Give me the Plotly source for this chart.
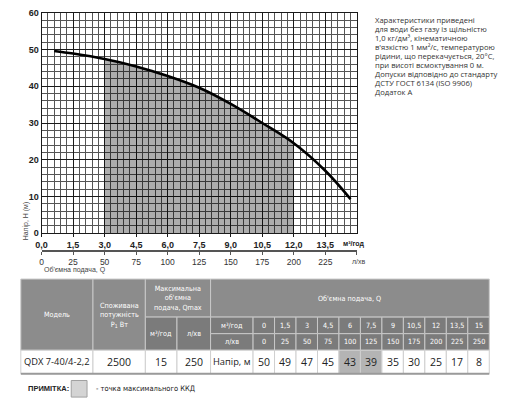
import plotly.graph_objects as go

W, H = 512, 405

# --- chart data ---
curve_q = [0.6, 1.5, 3.0, 4.5, 6.0, 7.5, 9.0, 10.5, 12.0, 13.5, 14.7]
curve_h = [49.6, 48.9, 47.4, 45.4, 42.8, 39.6, 35.2, 30.0, 24.5, 17.0, 9.3]
work_from, work_to = 3.0, 12.0

q_ticks = [0.0, 1.5, 3.0, 4.5, 6.0, 7.5, 9.0, 10.5, 12.0, 13.5]
lmin_ticks = [0, 25, 50, 75, 100, 125, 150, 175, 200, 225]
h_ticks = [0, 10, 20, 30, 40, 50, 60]

# --- table data ---
model_name = "QDX 7-40/4-2,2"
power_w = 2500
qmax_m3 = 15
qmax_lmin = 250
tbl_q_m3 = ["0", "1,5", "3", "4,5", "6", "7,5", "9", "10,5", "12", "13,5", "15"]
tbl_q_lmin = ["0", "25", "50", "75", "100", "125", "150", "175", "200", "225", "250"]
tbl_head = [50, 49, 47, 45, 43, 39, 35, 30, 25, 17, 8]
tbl_bep = [False, False, False, False, True, True, False, False, False, False, False]

notes = [
    "Характеристики приведені",
    "для води без газу із щільністю",
    "1,0 кг/дм³, кінематичною",
    "в'язкістю 1 мм²/с, температурою",
    "рідини, що перекачується, 20°С,",
    "при висоті всмоктування 0 м.",
    "Допуски відповідно до стандарту",
    "ДСТУ ГОСТ 6134 (ISO 9906)",
    "Додаток А",
]


def px(x):
    return x / W


def py(y):
    return 1 - y / H


fill_q = [q for q in curve_q if work_from <= q <= work_to]
fill_h = [h for q, h in zip(curve_q, curve_h) if work_from <= q <= work_to]

fig = go.Figure()
fig.add_trace(go.Scatter(x=fill_q, y=fill_h, mode="lines", fill="tozeroy",
                         line=dict(width=0, shape="spline"),
                         fillcolor="rgba(0,0,0,0.32)", hoverinfo="skip"))
fig.add_trace(go.Scatter(x=curve_q, y=curve_h, mode="lines",
                         line=dict(color="black", width=2.6, shape="spline")))
# invisible trace so the l/min axis is drawn
fig.add_trace(go.Scatter(x=[0, 250], y=[0, 0], xaxis="x2", mode="lines",
                         line=dict(width=0), hoverinfo="skip"))

fig.update_layout(
    width=W, height=H,
    margin=dict(l=0, r=0, t=0, b=0),
    paper_bgcolor="white", plot_bgcolor="white",
    showlegend=False,
    separators=", ",
    xaxis=dict(
        domain=[px(36), px(355)], range=[0, 15],
        tickvals=q_ticks, ticktext=[f"{v:.1f}".replace(".", ",") for v in q_ticks],
        tickfont=dict(family="Liberation Sans", size=9, color="#222", weight="bold"),
        showgrid=True, gridcolor="#1a1a1a", gridwidth=1.3,
        minor=dict(tick0=0, dtick=0.3, showgrid=True, gridcolor="#555", gridwidth=0.6),
        ticks="outside", ticklen=3, tickcolor="#1a1a1a",
        showline=True, mirror=True, linecolor="#1a1a1a", linewidth=1,
        zeroline=False, fixedrange=True,
    ),
    xaxis2=dict(
        domain=[px(36), px(355)], range=[0, 250], overlaying="x",
        anchor="free", position=py(252), side="bottom",
        tickvals=lmin_ticks,
        tickfont=dict(family="Liberation Sans", size=8.5, color="#333"),
        ticks="outside", ticklen=3, tickcolor="#555",
        minor=dict(tick0=0, dtick=25, ticks="outside", ticklen=3, tickcolor="#555"),
        showline=True, linecolor="#555", linewidth=1.6,
        showgrid=False, zeroline=False,
    ),
    yaxis=dict(
        domain=[py(234), py(8)], range=[0, 60],
        tickvals=h_ticks,
        tickfont=dict(family="Liberation Sans", size=9, color="#222", weight="bold"),
        showgrid=True, gridcolor="#1a1a1a", gridwidth=1.3,
        minor=dict(tick0=0, dtick=2, showgrid=True, gridcolor="#555", gridwidth=0.6),
        ticks="", showline=True, mirror=True, linecolor="#1a1a1a", linewidth=1,
        zeroline=False,
    ),
)

ann = []
shapes = []


def text(x, y, s, size=8, color="#222", family="Open Sans", xanchor="center", **kw):
    ann.append(dict(x=px(x), y=py(y), xref="paper", yref="paper", text=s,
                    showarrow=False, xanchor=xanchor, yanchor="middle",
                    font=dict(family=family, size=size, color=color), **kw))


def cell(x0, y0, x1, y1, fill, line="#c8c8c8", width=1):
    shapes.append(dict(type="rect", xref="paper", yref="paper",
                       x0=px(x0), x1=px(x1), y0=py(y1), y1=py(y0),
                       fillcolor=fill, line=dict(color=line, width=width), layer="above"))


# axis captions
text(352, 245, "<b>м³/год</b>", size=7, family="Liberation Sans")
text(357, 263, "л/хв", size=7, color="#444", family="Liberation Sans")
text(36, 272, "Об'ємна подача, Q", size=7, color="#444", xanchor="left", family="Liberation Sans")
text(20, 221, "Напір, H (м)", size=7, color="#444", family="Liberation Sans", textangle=-90)

for i, line in enumerate(notes):
    text(371, 15 + i * 9.3, line, size=7.6, color="#333", xanchor="left")

# --- table ---
hdr = "#8c8c8c"
sub = "#7b7b7b"
cond = "Liberation Sans Narrow, DejaVu Sans Condensed, sans-serif"
top, mid, r1, r2, bot = 281, 320, 337, 354, 378
c_model, c_pow, c_qm, c_ql, c_lab, c_q0, c_end = 15, 88, 141, 173, 207, 250, 489
cw = (c_end - c_q0) / len(tbl_head)

cell(c_model, top, c_pow, r2, hdr)
cell(c_pow, top, c_qm, r2, hdr)
cell(c_qm, top, c_lab, mid, hdr)
cell(c_qm, mid, c_ql, r2, sub)
cell(c_ql, mid, c_lab, r2, sub)
cell(c_lab, top, c_end, mid, hdr)
cell(c_lab, mid, c_q0, r1, sub)
cell(c_lab, r1, c_q0, r2, sub)

hw = "white"
text((c_model + c_pow) / 2, (top + r2) / 2, "Модель", 7.2, hw, cond)
text((c_pow + c_qm) / 2, (top + r2) / 2, "Споживана<br>потужність<br>P<sub>1</sub> Вт", 7.2, hw, cond)
text((c_qm + c_lab) / 2, (top + mid) / 2, "Максимальна<br>об'ємна<br>подача, Qmax", 7.2, hw, cond)
text((c_qm + c_ql) / 2, (mid + r2) / 2, "м³/год", 7.2, hw, cond)
text((c_ql + c_lab) / 2, (mid + r2) / 2, "л/хв", 7.2, hw, cond)
text((c_lab + c_end) / 2, (top + mid) / 2, "Об'ємна подача, Q", 7.2, hw, cond)
text((c_lab + c_q0) / 2, (mid + r1) / 2, "м³/год", 7.2, hw, cond)
text((c_lab + c_q0) / 2, (r1 + r2) / 2, "л/хв", 7.2, hw, cond)

dark = "#222"
ds = 10.5
cell(c_model, r2, c_pow, bot, "white", "#cfcfcf")
cell(c_pow, r2, c_qm, bot, "white", "#cfcfcf")
cell(c_qm, r2, c_ql, bot, "white", "#cfcfcf")
cell(c_ql, r2, c_lab, bot, "white", "#cfcfcf")
cell(c_lab, r2, c_q0, bot, "white", "#cfcfcf")
text((c_model + c_pow) / 2, (r2 + bot) / 2, model_name, 9.3, dark)
text((c_pow + c_qm) / 2, (r2 + bot) / 2, str(power_w), ds, dark)
text((c_qm + c_ql) / 2, (r2 + bot) / 2, str(qmax_m3), ds, dark)
text((c_ql + c_lab) / 2, (r2 + bot) / 2, str(qmax_lmin), ds, dark)
text((c_lab + c_q0) / 2, (r2 + bot) / 2, "Напір, м", 9.3, dark)

for i, (qm, ql, hd, bep) in enumerate(zip(tbl_q_m3, tbl_q_lmin, tbl_head, tbl_bep)):
    x0 = c_q0 + i * cw
    x1 = x0 + cw
    cell(x0, mid, x1, r1, sub)
    cell(x0, r1, x1, r2, sub)
    cell(x0, r2, x1, bot, "#b4b4b4" if bep else "white", "#cfcfcf")
    xc = (x0 + x1) / 2
    text(xc, (mid + r1) / 2, qm, 7.2, hw, cond)
    text(xc, (r1 + r2) / 2, ql, 7.2, hw, cond)
    text(xc, (r2 + bot) / 2, str(hd), ds, dark)

shapes.append(dict(type="line", xref="paper", yref="paper", x0=px(c_model), x1=px(c_end),
                   y0=py(bot), y1=py(bot), line=dict(color="#9a9a9a", width=2), layer="above"))

# note
text(20, 393, "<b>ПРИМІТКА:</b>", 7.5, dark, "Liberation Sans", xanchor="left")
cell(66, 385, 82, 402, "#d4d4d4", "#a0a0a0")
text(89, 393, "- точка максимального ККД", 7.5, dark, cond, xanchor="left")

fig.update_layout(annotations=ann, shapes=shapes)
fig.write_html("out.html", config={"displayModeBar": False},
               post_script="document.body.style.margin='0';document.body.style.overflow='hidden';")
